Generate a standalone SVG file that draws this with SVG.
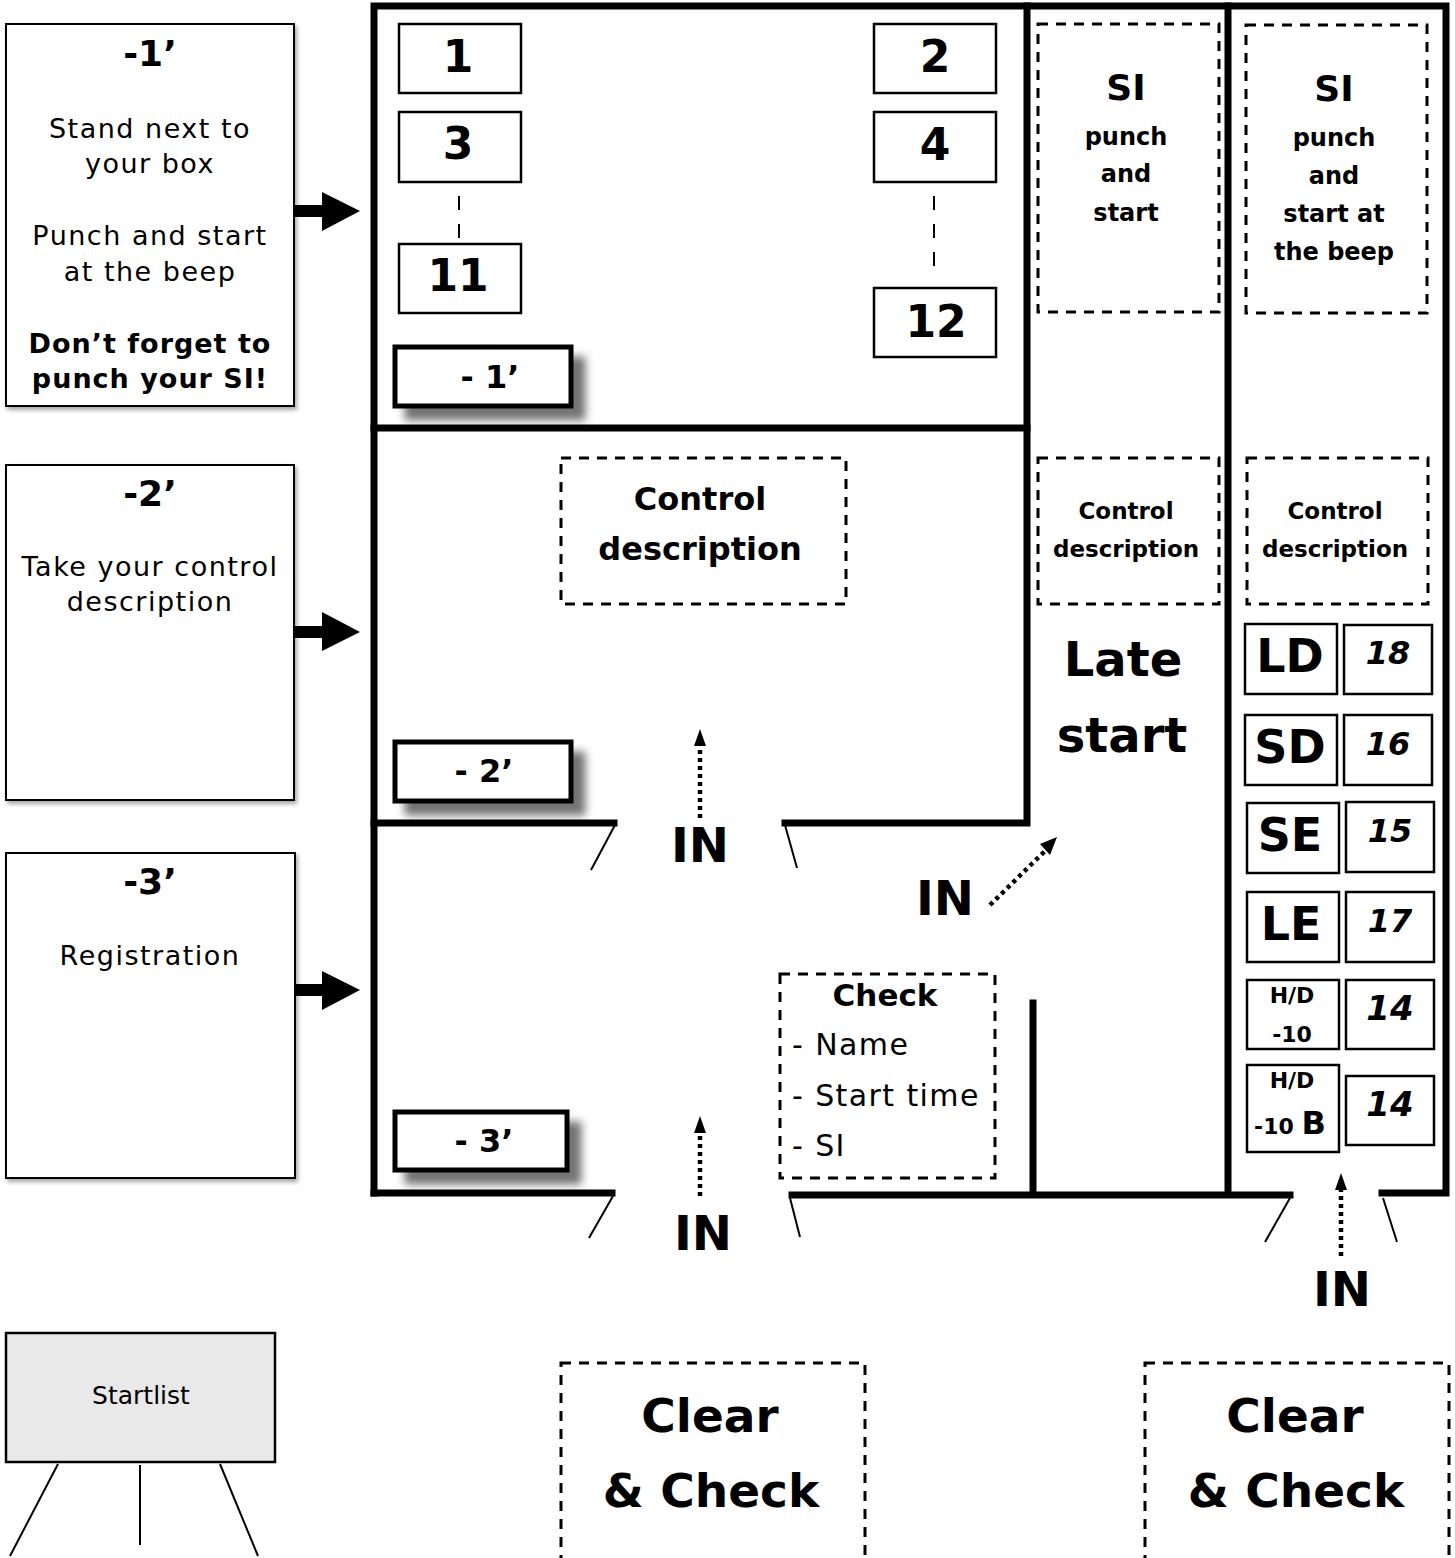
<svg xmlns="http://www.w3.org/2000/svg" width="1455" height="1558" viewBox="0 0 1455 1558">
<defs>
<filter id="sh" x="-20%" y="-20%" width="150%" height="160%"><feDropShadow dx="12" dy="12" stdDeviation="4" flood-color="#000" flood-opacity="0.55"/></filter>
<filter id="sh2" x="-10%" y="-10%" width="120%" height="120%"><feDropShadow dx="2" dy="3" stdDeviation="2" flood-color="#000" flood-opacity="0.35"/></filter>
</defs>
<style>
text{font-family:"DejaVu Sans","Liberation Sans",sans-serif;fill:#000;text-anchor:middle}
.b{font-weight:bold}
.bi{font-weight:bold;font-style:italic}
.sp{letter-spacing:1.5px}
.spb{letter-spacing:1px}
.card{fill:#fff;stroke:#000;stroke-width:2}
.wall{stroke:#000;stroke-width:7;fill:none;stroke-linecap:square}
.leaf{stroke:#000;stroke-width:2;fill:none}
.box{fill:#fff;stroke:#000;stroke-width:2.5}
.tbox{fill:#fff;stroke:#000;stroke-width:5}
.dash{fill:none;stroke:#000;stroke-width:3;stroke-dasharray:10 8}
.dl{stroke:#000;stroke-width:2;stroke-dasharray:14 14}
.dot{stroke:#000;stroke-width:4.5;stroke-dasharray:4 4;fill:none}
</style>

<g id="card1">
<rect class="card" x="6" y="24" width="288" height="382" filter="url(#sh2)"/>
<text class="b" x="150" y="66" font-size="36">-1’</text>
<text class="sp" x="150" y="138" font-size="27">Stand next to</text>
<text class="sp" x="150" y="173" font-size="27">your box</text>
<text class="sp" x="150" y="245" font-size="27">Punch and start</text>
<text class="sp" x="150" y="281" font-size="27">at the beep</text>
<text class="b spb" x="150" y="353" font-size="27">Don’t forget to</text>
<text class="b spb" x="150" y="388" font-size="27">punch your SI!</text>
</g>
<g id="card2">
<rect class="card" x="6" y="465" width="288" height="335" filter="url(#sh2)"/>
<text class="b" x="150" y="506" font-size="36">-2’</text>
<text class="sp" x="150" y="576" font-size="27">Take your control</text>
<text class="sp" x="150" y="611" font-size="27">description</text>
</g>
<g id="card3">
<rect class="card" x="6" y="853" width="289" height="325" filter="url(#sh2)"/>
<text class="b" x="150" y="894" font-size="36">-3’</text>
<text class="sp" x="150" y="965" font-size="27">Registration</text>
</g>

<g id="connectors">
<path d="M294,205 H322 V192 L360,211 L322,231 V217 H294 Z" fill="#000"/>
<path d="M294,626 H322 V612 L360,632 L322,651 V638 H294 Z" fill="#000"/>
<path d="M294,984 H322 V971 L360,990 L322,1010 V996 H294 Z" fill="#000"/>
<line class="dl" x1="459" y1="196" x2="459" y2="240"/>
<line class="dl" x1="934" y1="196" x2="934" y2="280"/>
<line class="dot" x1="700" y1="818" x2="700" y2="746"/>
<path d="M694,746 L700,729 L706,746 Z" fill="#000"/>
<line class="dot" x1="700" y1="1196" x2="700" y2="1133"/>
<path d="M694,1133 L700,1116 L706,1133 Z" fill="#000"/>
<line class="dot" x1="1341" y1="1256" x2="1341" y2="1190"/>
<path d="M1335,1190 L1341,1173 L1347,1190 Z" fill="#000"/>
<line class="dot" x1="990" y1="905" x2="1045" y2="851"/>
<path d="M1040,844 L1057,837 L1050,855 Z" fill="#000"/>
</g>

<g id="walls">
<path class="wall" d="M374,1193 V6 H1446 V1193 H1382"/>
<line class="wall" x1="374" y1="428" x2="1027" y2="428"/>
<path class="wall" d="M1027,6 V823 H785"/>
<line class="wall" x1="374" y1="823" x2="614" y2="823"/>
<line class="wall" x1="1228" y1="6" x2="1228" y2="1193"/>
<line class="wall" x1="374" y1="1193" x2="612" y2="1193"/>
<line class="wall" x1="792" y1="1195" x2="1290" y2="1195"/>
<line class="wall" x1="1033" y1="1003" x2="1033" y2="1193"/>
<line class="leaf" x1="615" y1="825" x2="591" y2="870"/>
<line class="leaf" x1="785" y1="825" x2="797" y2="868"/>
<line class="leaf" x1="613" y1="1196" x2="589" y2="1238"/>
<line class="leaf" x1="790" y1="1198" x2="800" y2="1237"/>
<line class="leaf" x1="1290" y1="1198" x2="1265" y2="1242"/>
<line class="leaf" x1="1383" y1="1198" x2="1397" y2="1242"/>
</g>

<g id="b1"><rect class="box" x="399" y="24" width="122" height="69"/><text class="b" x="458" y="72" font-size="44">1</text></g>
<g id="b3"><rect class="box" x="399" y="112" width="122" height="70"/><text class="b" x="458" y="159" font-size="44">3</text></g>
<g id="b11"><rect class="box" x="399" y="244" width="122" height="69"/><text class="b" x="458" y="291" font-size="44">11</text></g>
<g id="b2"><rect class="box" x="874" y="24" width="122" height="69"/><text class="b" x="935" y="72" font-size="44">2</text></g>
<g id="b4"><rect class="box" x="874" y="112" width="122" height="70"/><text class="b" x="935" y="160" font-size="44">4</text></g>
<g id="b12"><rect class="box" x="874" y="288" width="122" height="69"/><text class="b" x="936" y="337" font-size="44">12</text></g>

<g id="t1"><rect class="tbox" x="395" y="347" width="176" height="59" filter="url(#sh)"/><text class="b" x="490" y="388" font-size="32">- 1’</text></g>
<g id="t2"><rect class="tbox" x="395" y="742" width="176" height="59" filter="url(#sh)"/><text class="b" x="484" y="782" font-size="32">- 2’</text></g>
<g id="t3"><rect class="tbox" x="395" y="1112" width="172" height="58" filter="url(#sh)"/><text class="b" x="484" y="1152" font-size="32">- 3’</text></g>

<g id="cd-main"><rect class="dash" x="561" y="458" width="285" height="146"/><text class="b" x="700" y="510" font-size="32">Control</text><text class="b" x="700" y="560" font-size="32">description</text></g>

<g id="si1"><rect class="dash" x="1038" y="24" width="181" height="288"/>
<text class="b" x="1126" y="100" font-size="36">SI</text>
<text class="b" x="1126" y="145" font-size="24">punch</text>
<text class="b" x="1126" y="182" font-size="24">and</text>
<text class="b" x="1126" y="221" font-size="24">start</text></g>
<g id="si2"><rect class="dash" x="1246" y="25" width="181" height="288"/>
<text class="b" x="1334" y="101" font-size="36">SI</text>
<text class="b" x="1334" y="146" font-size="24">punch</text>
<text class="b" x="1334" y="184" font-size="24">and</text>
<text class="b" x="1334" y="222" font-size="24">start at</text>
<text class="b" x="1334" y="260" font-size="24">the beep</text></g>

<g id="cd2"><rect class="dash" x="1038" y="458" width="181" height="146"/><text class="b" x="1126" y="519" font-size="23">Control</text><text class="b" x="1126" y="557" font-size="23">description</text></g>
<g id="cd3"><rect class="dash" x="1247" y="458" width="181" height="146"/><text class="b" x="1335" y="519" font-size="23">Control</text><text class="b" x="1335" y="557" font-size="23">description</text></g>

<g id="late"><text class="b" x="1123" y="676" font-size="48">Late</text><text class="b" x="1122" y="752" font-size="48">start</text></g>

<g id="LD"><rect class="box" x="1245" y="624" width="92" height="70"/><text class="b" x="1290" y="672" font-size="46">LD</text></g>
<g id="n18"><rect class="box" x="1344" y="625" width="88" height="69"/><text class="bi" x="1388" y="664" font-size="32">18</text></g>
<g id="SD"><rect class="box" x="1245" y="715" width="92" height="70"/><text class="b" x="1290" y="763" font-size="46">SD</text></g>
<g id="n16"><rect class="box" x="1344" y="715" width="88" height="70"/><text class="bi" x="1388" y="755" font-size="32">16</text></g>
<g id="SE"><rect class="box" x="1247" y="803" width="92" height="70"/><text class="b" x="1290" y="851" font-size="46">SE</text></g>
<g id="n15"><rect class="box" x="1346" y="802" width="88" height="70"/><text class="bi" x="1390" y="842" font-size="32">15</text></g>
<g id="LE"><rect class="box" x="1247" y="892" width="92" height="70"/><text class="b" x="1291" y="940" font-size="46">LE</text></g>
<g id="n17"><rect class="box" x="1346" y="892" width="88" height="70"/><text class="bi" x="1390" y="932" font-size="32">17</text></g>
<g id="HD1"><rect class="box" x="1247" y="980" width="92" height="69"/><text class="b" x="1292" y="1003" font-size="22">H/D</text><text class="b" x="1292" y="1042" font-size="22">-10</text></g>
<g id="n14a"><rect class="box" x="1346" y="980" width="88" height="69"/><text class="bi" x="1390" y="1020" font-size="34">14</text></g>
<g id="HD2"><rect class="box" x="1247" y="1065" width="92" height="87"/><text class="b" x="1292" y="1088" font-size="22">H/D</text><text class="b" x="1290" y="1134" font-size="22">-10 <tspan font-size="32">B</tspan></text></g>
<g id="n14b"><rect class="box" x="1346" y="1076" width="88" height="69"/><text class="bi" x="1390" y="1116" font-size="34">14</text></g>

<g id="check"><rect class="dash" x="780" y="974" width="215" height="204"/>
<text class="b" x="885" y="1006" font-size="31">Check</text>
<text x="792" y="1055" font-size="30" style="text-anchor:start;letter-spacing:1.4px">- Name</text>
<text x="792" y="1106" font-size="30" style="text-anchor:start;letter-spacing:1.4px">- Start time</text>
<text x="792" y="1156" font-size="30" style="text-anchor:start;letter-spacing:1.4px">- SI</text></g>

<g id="in1"><text class="b" x="700" y="862" font-size="48">IN</text></g>
<g id="in2"><text class="b" x="703" y="1250" font-size="48">IN</text></g>
<g id="in3"><text class="b" x="945" y="915" font-size="48">IN</text></g>
<g id="in4"><text class="b" x="1342" y="1306" font-size="48">IN</text></g>

<g id="startlist">
<rect x="6" y="1333" width="269" height="129" fill="#e9e9e9" stroke="#000" stroke-width="2.5"/>
<text x="141" y="1404" font-size="25">Startlist</text>
<line class="leaf" x1="58" y1="1464" x2="10" y2="1556"/>
<line class="leaf" x1="140" y1="1465" x2="140" y2="1545"/>
<line class="leaf" x1="220" y1="1464" x2="258" y2="1556"/>
</g>

<g id="cc1"><rect class="dash" x="561" y="1363" width="304" height="220"/><text class="b" x="710" y="1432" font-size="47">Clear</text><text class="b" x="711" y="1507" font-size="47">&amp; Check</text></g>
<g id="cc2"><rect class="dash" x="1145" y="1363" width="304" height="220"/><text class="b" x="1295" y="1432" font-size="47">Clear</text><text class="b" x="1296" y="1507" font-size="47">&amp; Check</text></g>
</svg>
